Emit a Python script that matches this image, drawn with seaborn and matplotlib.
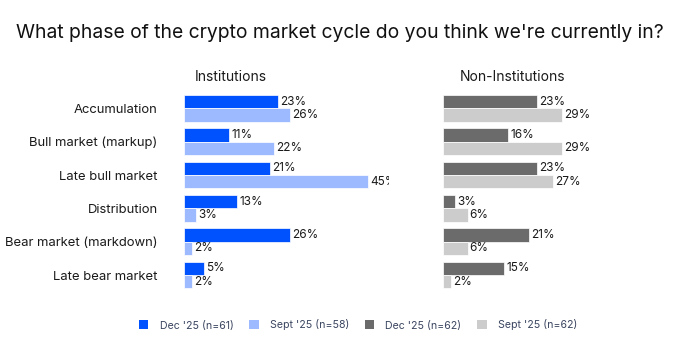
import matplotlib
matplotlib.use("Agg")
import matplotlib.pyplot as plt
from matplotlib.patches import Patch
import pandas as pd
import seaborn as sns

phases = ["Accumulation", "Bull market (markup)", "Late bull market",
          "Distribution", "Bear market (markdown)", "Late bear market"]
inst_dec = [23, 11, 21, 13, 26, 5]
inst_sept = [26, 22, 45, 3, 2, 2]
non_dec = [23, 16, 23, 3, 21, 15]
non_sept = [29, 29, 27, 6, 6, 2]

inst_labels = ["Dec '25 (n=61)", "Sept '25 (n=58)"]
non_labels = ["Dec '25 (n=62)", "Sept '25 (n=62)"]
inst_colors = ["#0052FF", "#9DB9FF"]
non_colors = ["#6B6B6B", "#CCCCCC"]

sns.set_theme(style="white")
plt.rcParams["font.family"] = ["Inter", "DejaVu Sans"]

def frame(dec, sept, labels):
    return pd.DataFrame({
        "phase": phases * 2,
        "pct": dec + sept,
        "wave": [labels[0]] * len(phases) + [labels[1]] * len(phases),
    })

fig = plt.figure(figsize=(6.79, 3.47), dpi=100)
W, H = 679, 347
ax_w = 204.5 / W
ax_b = (H - 291.7) / H
ax_h = 200 / H
ax1 = fig.add_axes([184 / W, ax_b, ax_w, ax_h])
ax2 = fig.add_axes([443 / W, ax_b, ax_w, ax_h])

text_col = "#1a1a1a"

for ax, dec, sept, labels, colors, show_y in [
    (ax1, inst_dec, inst_sept, inst_labels, inst_colors, True),
    (ax2, non_dec, non_sept, non_labels, non_colors, False),
]:
    df = frame(dec, sept, labels)
    sns.barplot(data=df, y="phase", x="pct", hue="wave", orient="h",
                palette=colors, hue_order=labels, order=phases,
                width=0.8, saturation=1, edgecolor="white", linewidth=0.5,
                legend=False, ax=ax)
    for cont in ax.containers:
        for bar in cont:
            val = bar.get_width()
            ax.text(val + 0.5, bar.get_y() + bar.get_height() / 2,
                    f"{val:.0f}%", va="center", ha="left",
                    fontsize=8.5, color=text_col, clip_on=True)
    ax.set_xlim(0, 50)
    ax.set_ylim(5.5, -0.5)
    ax.set_xlabel("")
    ax.set_ylabel("")
    ax.set_xticks([])
    sns.despine(ax=ax, left=True, bottom=True)
    if show_y:
        ax.tick_params(axis="y", length=0, pad=19, labelsize=9.4,
                       labelcolor=text_col)
    else:
        ax.set_yticks([])

fig.text(0.5, 1 - 33 / H, "What phase of the crypto market cycle do you think we're currently in?",
         ha="center", va="center", fontsize=13.9, color="#111111")
fig.text(231 / W, 1 - 77 / H, "Institutions", ha="center", va="center",
         fontsize=10, color=text_col)
fig.text(513 / W, 1 - 77 / H, "Non-Institutions", ha="center", va="center",
         fontsize=10, color=text_col)

handles = [Patch(facecolor=c, edgecolor="none", label=l)
           for c, l in zip(inst_colors + non_colors, inst_labels + non_labels)]
fig.legend(handles=handles, loc="center", bbox_to_anchor=(358 / W, 1 - 325 / H),
           ncol=4, frameon=False, fontsize=7.6, handlelength=0.9,
           handleheight=0.9, handletextpad=1.05, columnspacing=1.5,
           labelcolor="#3a4560")

fig.savefig("out.png", dpi=100)
